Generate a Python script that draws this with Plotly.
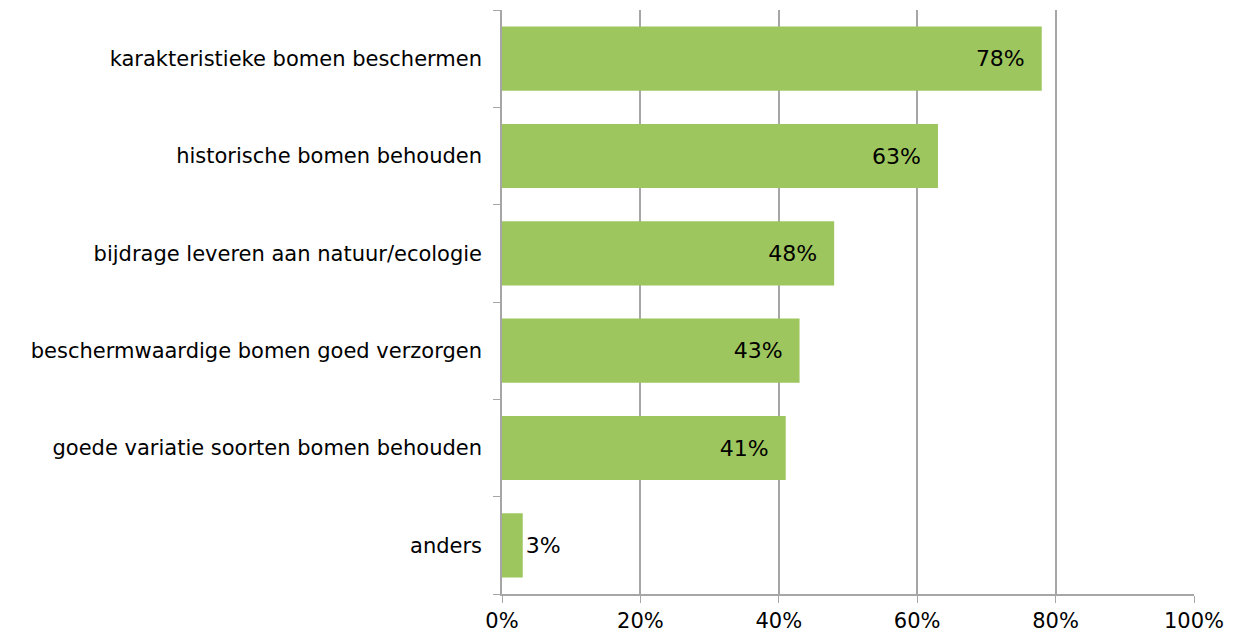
import plotly.graph_objects as go

categories = [
    "karakteristieke bomen beschermen",
    "historische bomen behouden",
    "bijdrage leveren aan natuur/ecologie",
    "beschermwaardige bomen goed verzorgen",
    "goede variatie soorten bomen behouden",
    "anders",
]
values = [78, 63, 48, 43, 41, 3]
x_ticks = [0, 20, 40, 60, 80, 100]

bar_color = "#9EC65E"
grid_color = "#A6A6A6"
font_family = "DejaVu Sans, Verdana, sans-serif"

labels = [f"{v}%\u00a0\u00a0" for v in values]

fig = go.Figure()
fig.add_trace(
    go.Bar(
        x=values,
        y=categories,
        orientation="h",
        marker={"color": bar_color, "line": {"width": 0}},
        text=labels,
        textposition="auto",
        insidetextanchor="end",
        textfont={"family": font_family, "size": 22, "color": "#000000"},
        outsidetextfont={"family": font_family, "size": 22, "color": "#000000"},
        constraintext="none",
        cliponaxis=False,
        hoverinfo="none",
    )
)

# page body adds an 8px offset, so margins are shifted to compensate
fig.update_layout(
    width=1252,
    height=635,
    margin={"l": 494, "r": 66, "t": 2, "b": 49},
    plot_bgcolor="white",
    paper_bgcolor="white",
    bargap=0.34,
    showlegend=False,
    font={"family": font_family, "size": 21, "color": "#000000"},
    xaxis={
        "range": [0, 100],
        "tickmode": "array",
        "tickvals": x_ticks,
        "ticktext": [f"{t}%" for t in x_ticks],
        "showgrid": True,
        "gridcolor": grid_color,
        "gridwidth": 1.5,
        "showline": True,
        "linecolor": grid_color,
        "linewidth": 1.5,
        "ticks": "outside",
        "ticklen": 7,
        "tickcolor": grid_color,
        "zeroline": False,
        "fixedrange": True,
    },
    yaxis={
        "categoryorder": "array",
        "categoryarray": categories[::-1],
        "showline": True,
        "linecolor": grid_color,
        "linewidth": 1.5,
        "ticks": "outside",
        "ticklen": 7,
        "tickcolor": grid_color,
        "tickson": "boundaries",
        "ticklabelstandoff": 14,
        "showgrid": False,
        "fixedrange": True,
    },
)

fig.write_html("out.html")
